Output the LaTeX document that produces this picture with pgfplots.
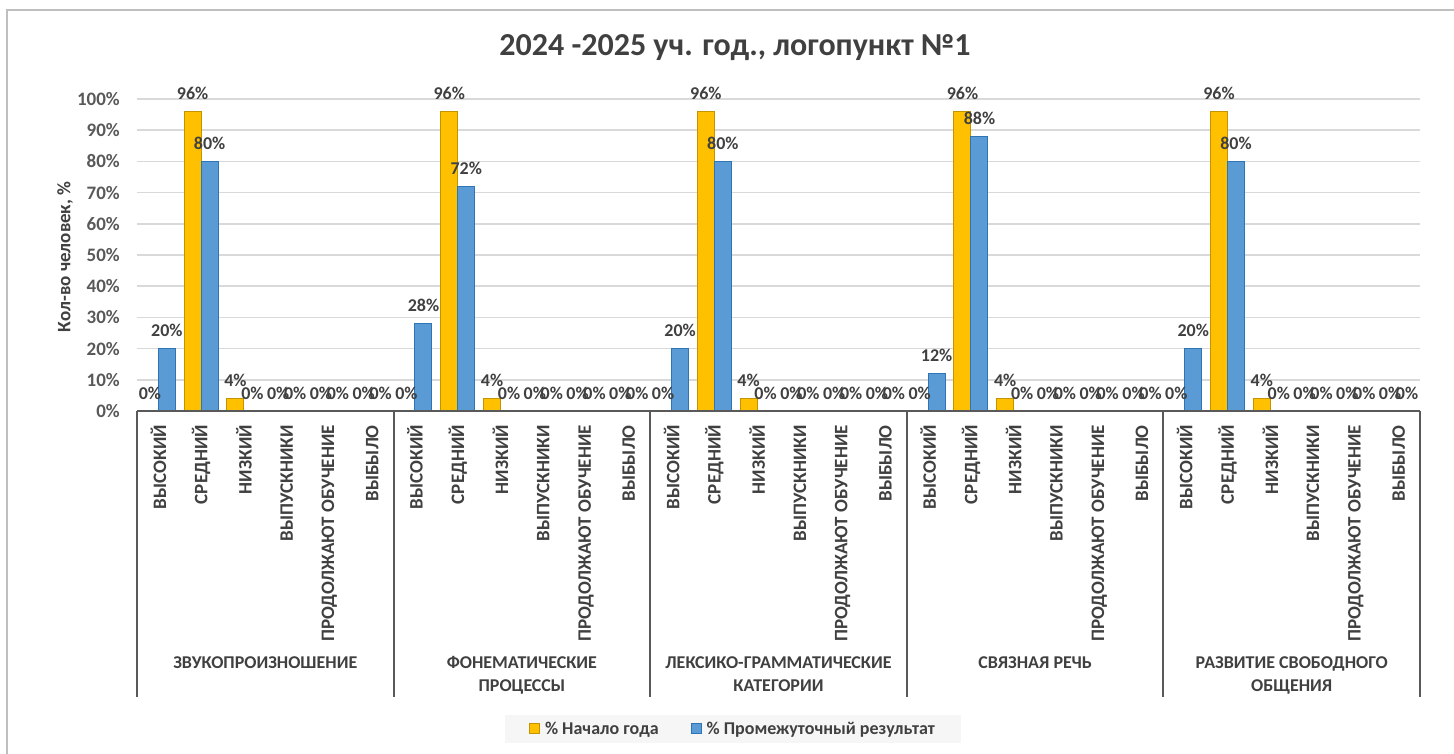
\documentclass[border=0pt]{standalone}
\usepackage{fontspec}
\setmainfont{Carlito}
\usepackage{pgfplots}
\pgfplotsset{compat=1.18}

\definecolor{yel}{HTML}{FFC000}
\definecolor{yeledge}{HTML}{C49300}
\definecolor{blu}{HTML}{5B9BD5}
\definecolor{bluedge}{HTML}{2E75B6}
\definecolor{ctxt}{HTML}{404040}
\definecolor{cticks}{HTML}{595959}
\definecolor{cgrid}{HTML}{D9D9D9}

\newcommand\lbl{\fontsize{18}{23}\selectfont\bfseries}
\newcommand\cat{\fontsize{19}{23}\selectfont\bfseries}

\begin{document}
\begin{tikzpicture}
\path[use as bounding box] (0,0) rectangle (1454pt,754pt);
% chart frame (only top and left edges are visible)
\draw[color=gray!50, line width=2pt] (7pt,0) -- (7pt,744pt) -- (1454pt,744pt);
\node[font=\fontsize{32}{38}\selectfont\bfseries, text=ctxt] at (735pt,706pt)
  {2024 -2025 уч. год., логопункт №1};

\begin{axis}[
  at={(137pt,343pt)}, anchor=south west,
  width=1283pt, height=312pt, scale only axis,
  ybar=0pt, bar width=17pt,
  xmin=-0.5, xmax=29.5, ymin=0, ymax=100,
  clip=false,
  axis line style={draw=none},
  tick style={draw=none}, major tick length=0pt,
  ymajorgrids, grid style={cgrid, line width=1.5pt},
  ytick={0,10,...,100},
  yticklabels={0\%,10\%,20\%,30\%,40\%,50\%,60\%,70\%,80\%,90\%,100\%},
  yticklabel style={font=\cat, text=cticks, anchor=east, inner ysep=0pt, inner xsep=17pt},
  xtick={0,...,29},
  xticklabels={ВЫСОКИЙ,СРЕДНИЙ,НИЗКИЙ,ВЫПУСКНИКИ,ПРОДОЛЖАЮТ ОБУЧЕНИЕ,ВЫБЫЛО,
               ВЫСОКИЙ,СРЕДНИЙ,НИЗКИЙ,ВЫПУСКНИКИ,ПРОДОЛЖАЮТ ОБУЧЕНИЕ,ВЫБЫЛО,
               ВЫСОКИЙ,СРЕДНИЙ,НИЗКИЙ,ВЫПУСКНИКИ,ПРОДОЛЖАЮТ ОБУЧЕНИЕ,ВЫБЫЛО,
               ВЫСОКИЙ,СРЕДНИЙ,НИЗКИЙ,ВЫПУСКНИКИ,ПРОДОЛЖАЮТ ОБУЧЕНИЕ,ВЫБЫЛО,
               ВЫСОКИЙ,СРЕДНИЙ,НИЗКИЙ,ВЫПУСКНИКИ,ПРОДОЛЖАЮТ ОБУЧЕНИЕ,ВЫБЫЛО},
  xticklabel style={font=\cat, text=ctxt, rotate=90, anchor=east, inner ysep=0pt, inner xsep=14pt},
  ylabel={Кол-во человек, \%},
  ylabel style={font=\fontsize{19}{22}\selectfont\bfseries, text=ctxt,
                at={(axis description cs:-0.056,0.494)}, anchor=center},
  nodes near coords={\pgfmathprintnumber[assume math mode=true]{\pgfplotspointmeta}\%},
  every node near coord/.append style={font=\lbl, text=ctxt, yshift=8pt},
  legend columns=2,
  legend style={at={(rel axis cs:0.4645,-1.019)}, anchor=center,
                draw=none, fill=gray!7, font=\lbl, text=ctxt,
                inner xsep=24pt, inner ysep=5pt,
                /tikz/every odd column/.append style={column sep=3pt},
                /tikz/every even column/.append style={column sep=30pt}},
  legend image code/.code={\draw[#1, line width=1pt] (0pt,-5pt) rectangle (10pt,5pt);},
]

% % Начало года
\addplot[fill=yel, draw=yeledge, line width=1pt] coordinates {
  (0,0) (1,96) (2,4) (3,0) (4,0) (5,0)
  (6,0) (7,96) (8,4) (9,0) (10,0) (11,0)
  (12,0) (13,96) (14,4) (15,0) (16,0) (17,0)
  (18,0) (19,96) (20,4) (21,0) (22,0) (23,0)
  (24,0) (25,96) (26,4) (27,0) (28,0) (29,0)
};
% % Промежуточный результат
\addplot[fill=blu, draw=bluedge, line width=1pt] coordinates {
  (0,20) (1,80) (2,0) (3,0) (4,0) (5,0)
  (6,28) (7,72) (8,0) (9,0) (10,0) (11,0)
  (12,20) (13,80) (14,0) (15,0) (16,0) (17,0)
  (18,12) (19,88) (20,0) (21,0) (22,0) (23,0)
  (24,20) (25,80) (26,0) (27,0) (28,0) (29,0)
};
\legend{\% Начало года, \% Промежуточный результат}

% base line and group separators
\draw[cticks, line width=2pt] (axis cs:-0.5,0) -- (axis cs:29.5,0);
\draw[cticks, line width=2pt] (axis cs:-0.5,0) -- ++(0pt,-286pt);
\draw[cticks, line width=2pt] (axis cs:5.5,0) -- ++(0pt,-286pt);
\draw[cticks, line width=2pt] (axis cs:11.5,0) -- ++(0pt,-286pt);
\draw[cticks, line width=2pt] (axis cs:17.5,0) -- ++(0pt,-286pt);
\draw[cticks, line width=2pt] (axis cs:23.5,0) -- ++(0pt,-286pt);
\draw[cticks, line width=2pt] (axis cs:29.5,0) -- ++(0pt,-286pt);

\node[anchor=north, align=center, font=\lbl, text=ctxt, inner sep=0pt]
  at ([yshift=-245pt]axis cs:2.5,0) {ЗВУКОПРОИЗНОШЕНИЕ};
\node[anchor=north, align=center, font=\lbl, text=ctxt, inner sep=0pt]
  at ([yshift=-245pt]axis cs:8.5,0) {ФОНЕМАТИЧЕСКИЕ\\ПРОЦЕССЫ};
\node[anchor=north, align=center, font=\lbl, text=ctxt, inner sep=0pt]
  at ([yshift=-245pt]axis cs:14.5,0) {ЛЕКСИКО-ГРАММАТИЧЕСКИЕ\\КАТЕГОРИИ};
\node[anchor=north, align=center, font=\lbl, text=ctxt, inner sep=0pt]
  at ([yshift=-245pt]axis cs:20.5,0) {СВЯЗНАЯ РЕЧЬ};
\node[anchor=north, align=center, font=\lbl, text=ctxt, inner sep=0pt]
  at ([yshift=-245pt]axis cs:26.5,0) {РАЗВИТИЕ СВОБОДНОГО\\ОБЩЕНИЯ};
\end{axis}
\end{tikzpicture}
\end{document}
